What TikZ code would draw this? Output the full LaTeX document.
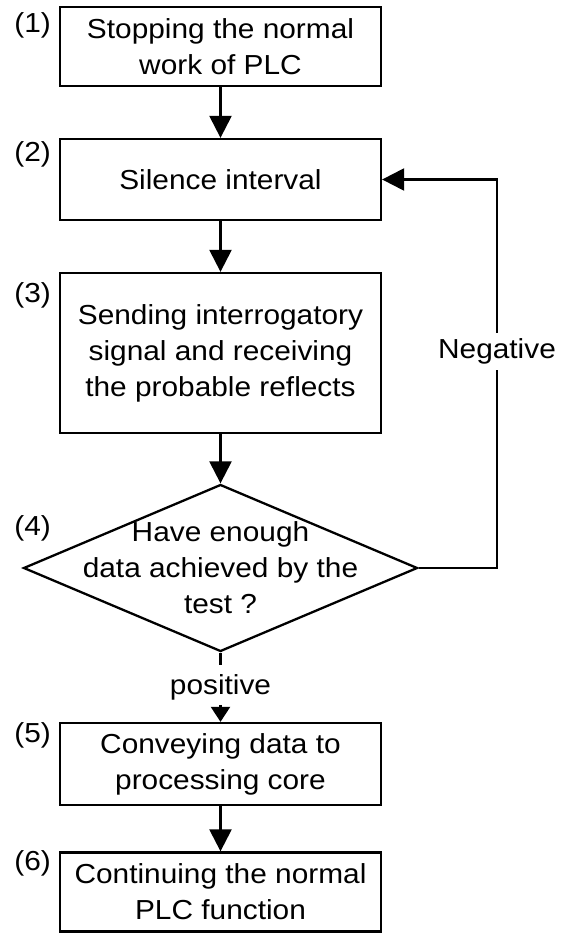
\documentclass[tikz,border=0pt]{standalone}
\usepackage{fontspec}
\setmainfont{Liberation Sans}[FakeStretch=1.085]
\usetikzlibrary{shapes.geometric, arrows.meta}

\begin{document}
\begin{tikzpicture}[x=1pt, y=1pt, line width=2.3pt,
    every node/.style={font=\fontsize{27.5}{36}\selectfont},
    stepbox/.style={draw, rectangle, minimum width=321pt, align=center, inner sep=0pt},
    decision/.style={draw, diamond, minimum width=394pt, minimum height=167pt, inner sep=0pt},
    stepno/.style={anchor=base east, inner sep=0pt},
    flow/.style={-{Triangle[width=22pt,length=22pt]}},
    flowsmall/.style={-{Triangle[width=19pt,length=15pt]}},
    lbl/.style={fill=white, inner sep=6pt}]
    \useasboundingbox (0,0) rectangle (567,-933);

    % Steps
    \node[stepbox, minimum height=79pt] (b1) at (220.5,-46.5) {Stopping the normal\\work of PLC};
    \node[stepbox, minimum height=81pt] (b2) at (220.5,-179.5) {Silence interval};
    \node[stepbox, minimum height=160pt] (b3) at (220.5,-353) {Sending interrogatory\\signal and receiving\\the probable reflects};
    \node[decision] (dec) at (220.5,-568) {};
    \node[align=center, inner sep=0pt] (dectext) at (dec.center) {Have enough\\data achieved by the\\test ?};
    \node[stepbox, minimum height=82pt] (b5) at (220.5,-764) {Conveying data to\\processing core};
    \node[stepbox, minimum height=79pt] (b6) at (220.5,-892) {Continuing the normal\\PLC function};

    % Step numbers
    \node[stepno] (n1) at (52,-33) {(1)};
    \node[stepno] (n2) at (52,-162) {(2)};
    \node[stepno] (n3) at (52,-302) {(3)};
    \node[stepno] (n4) at (52,-535) {(4)};
    \node[stepno] (n5) at (52,-742) {(5)};
    \node[stepno] (n6) at (52,-870) {(6)};

    % Flow
    \draw[flow] (b1) -- (b2);
    \draw[flow] (b2) -- (b3);
    \draw[flow] (b3) -- (dec);
    \node[inner sep=0pt] (pos) at (220.5,-687) {positive};
    \draw (dec.south) -- ([yshift=8pt]pos.north);
    \draw[flowsmall] ([yshift=-4pt]pos.south) -- (b5.north);
    \draw[flow] (b5) -- (b6);

    % Loop back
    \coordinate (loop) at (497,0);
    \draw[flow] (dec.east) -- (dec.east -| loop) -- node[lbl, pos=0.557] {Negative} (b2.east -| loop) -- (b2.east);
\end{tikzpicture}
\end{document}
